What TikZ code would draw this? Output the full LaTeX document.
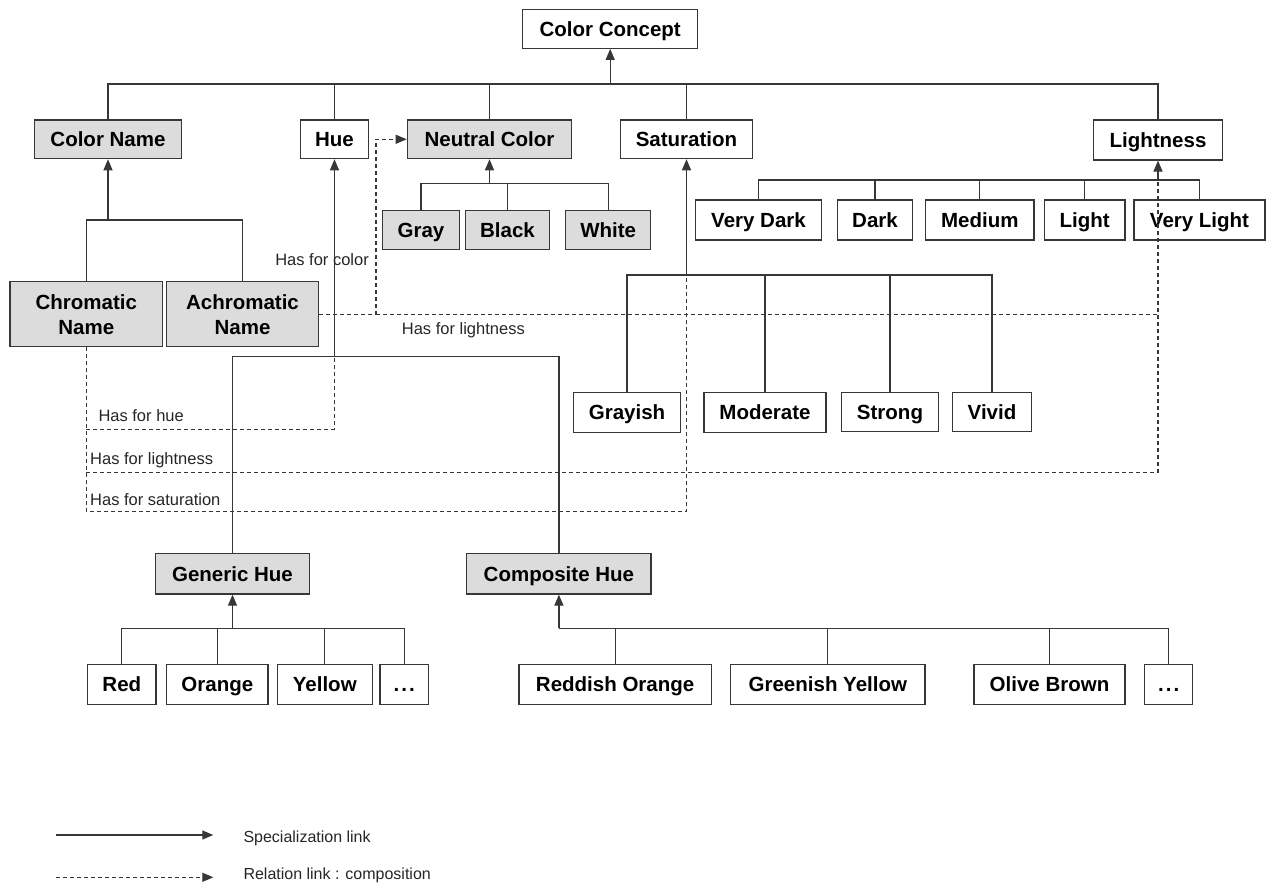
\documentclass[tikz,border=0pt]{standalone}
\usepackage{fontspec}
\setmainfont{Liberation Sans}
\usetikzlibrary{arrows.meta}
\definecolor{boxgray}{RGB}{220,220,220}
\definecolor{linec}{RGB}{55,55,55}
\tikzset{
  bx/.style={draw=linec, line width=1.2pt, fill=white, inner sep=0pt, text=black,
    font=\bfseries\fontsize{20.5}{25}\selectfont, align=center,
    text height=14.7pt, text depth=0pt},
  gbx/.style={bx, fill=boxgray},
  twoline/.style={text height=, text depth=},
  spec/.style={draw=linec, line width=1.2pt},
  arr/.style={spec, -{Triangle[length=11pt,width=9pt]}},
  rel/.style={draw=linec, line width=1.1pt, dash pattern=on 4pt off 3pt},
  relarr/.style={rel, -{Triangle[length=11pt,width=9pt]}},
  lbl/.style={inner sep=0pt, text=black!85, font=\fontsize{16.5}{19}\selectfont},
  leg/.style={inner sep=0pt, text=black!85, font=\fontsize{16}{18}\selectfont},
}
\newcommand{\mydots}{.\kern2pt.\kern2pt.}
\begin{document}
\begin{tikzpicture}[x=1pt,y=-1pt]
\useasboundingbox[fill=white] (0,0) rectangle (1275,886);

% nodes
\node[bx, minimum width=175pt, minimum height=39pt] (cc) at (610.2,28.8) {Color Concept};
\node[gbx, minimum width=147.4pt, minimum height=38.7pt] (cname) at (108,139.3) {Color Name};
\node[bx, minimum width=68.3pt, minimum height=38.7pt] (hue) at (334.5,139.3) {Hue};
\node[gbx, minimum width=164.4pt, minimum height=38.7pt] (neutral) at (489.5,139.3) {Neutral Color};
\node[bx, minimum width=132.7pt, minimum height=38.7pt] (sat) at (686.5,139.3) {Saturation};
\node[bx, minimum width=129pt, minimum height=40pt] (light) at (1158,140) {Lightness};

\node[gbx, minimum width=76.6pt, minimum height=38.6pt] (gray) at (421,230) {Gray};
\node[gbx, minimum width=83.6pt, minimum height=38.6pt] (black) at (507.5,230) {Black};
\node[gbx, minimum width=85pt, minimum height=38.6pt] (white) at (608.2,230) {White};

\node[bx, minimum width=126.4pt, minimum height=40pt] (vdark) at (758.5,220) {Very Dark};
\node[bx, minimum width=75.4pt, minimum height=40pt] (dark) at (875,220) {Dark};
\node[bx, minimum width=108.3pt, minimum height=40pt] (medium) at (979.85,220) {Medium};
\node[bx, minimum width=80.7pt, minimum height=40pt] (lightc) at (1084.65,220) {Light};
\node[bx, minimum width=131pt, minimum height=40pt] (vlight) at (1199.5,220) {Very Light};

\node[gbx, twoline, minimum width=152.7pt, minimum height=65pt] (chrom) at (86.35,314.2) {Chromatic\\Name};
\node[gbx, twoline, minimum width=152.4pt, minimum height=65pt] (achrom) at (242.5,314.2) {Achromatic\\Name};

\node[bx, minimum width=107.4pt, minimum height=40.4pt] (grayish) at (627,412.5) {Grayish};
\node[bx, minimum width=122pt, minimum height=40.4pt] (moderate) at (765,412.5) {Moderate};
\node[bx, minimum width=96.6pt, minimum height=39pt] (strong) at (890,412) {Strong};
\node[bx, minimum width=79.4pt, minimum height=39pt] (vivid) at (992,412) {Vivid};

\node[gbx, minimum width=153.6pt, minimum height=40.7pt] (generic) at (232.5,573.7) {Generic Hue};
\node[gbx, minimum width=184.3pt, minimum height=40.7pt] (composite) at (558.9,573.7) {Composite Hue};

\node[bx, minimum width=68.3pt, minimum height=40pt] (red) at (121.85,684.3) {Red};
\node[bx, minimum width=101.3pt, minimum height=40pt] (orange) at (217.35,684.3) {Orange};
\node[bx, minimum width=95pt, minimum height=40pt] (yellow) at (324.8,684.3) {Yellow};
\node[bx, minimum width=48.3pt, minimum height=40pt] (dotsa) at (404.15,684.3) {\mydots};
\node[bx, minimum width=192.3pt, minimum height=40pt] (reddish) at (615.15,684.3) {Reddish Orange};
\node[bx, minimum width=194.3pt, minimum height=40pt] (greenish) at (827.85,684.3) {Greenish Yellow};
\node[bx, minimum width=151pt, minimum height=40pt] (olive) at (1049.5,684.3) {Olive Brown};
\node[bx, minimum width=48pt, minimum height=40pt] (dotsb) at (1168.7,684.3) {\mydots};

% Color Concept specialization
\draw[spec] (cname.north) -- (cname.north |- 0,84) -- (light.north |- 0,84) -- (light.north);
\draw[spec] (hue.north) -- (hue.north |- 0,84);
\draw[spec] (neutral.north) -- (neutral.north |- 0,84);
\draw[spec] (sat.north) -- (sat.north |- 0,84);
\draw[arr] (cc.south |- 0,84) -- (cc.south);

% Neutral color
\draw[spec] (gray.north) -- (gray.north |- 0,183.7) -- (white.north |- 0,183.7) -- (white.north);
\draw[spec] (black.north) -- (black.north |- 0,183.7);
\draw[arr] (neutral.south |- 0,183.7) -- (neutral.south);

% Lightness
\draw[spec] (vdark.north) -- (vdark.north |- 0,180) -- (vlight.north |- 0,180) -- (vlight.north);
\draw[spec] (dark.north) -- (dark.north |- 0,180);
\draw[spec] (medium.north) -- (medium.north |- 0,180);
\draw[spec] (lightc.north) -- (lightc.north |- 0,180);
\draw[arr] (light.south |- 0,180) -- (light.south);

% Saturation
\draw[spec] (grayish.north) -- (grayish.north |- 0,275) -- (vivid.north |- 0,275) -- (vivid.north);
\draw[spec] (moderate.north) -- (moderate.north |- 0,275);
\draw[spec] (strong.north) -- (strong.north |- 0,275);
\draw[arr] (sat.south |- 0,275) -- (sat.south);

% Color name
\draw[spec] (chrom.north) -- (chrom.north |- 0,220) -- (achrom.north |- 0,220) -- (achrom.north);
\draw[arr] (cname.south |- 0,220) -- (cname.south);

% Hue
\draw[spec] (generic.north) -- (generic.north |- 0,356.7) -- (composite.north |- 0,356.7) -- (composite.north);
\draw[arr] (hue.south |- 0,356.7) -- (hue.south);

% Generic hue
\draw[spec] (red.north) -- (red.north |- 0,628.3) -- (dotsa.north |- 0,628.3) -- (dotsa.north);
\draw[spec] (orange.north) -- (orange.north |- 0,628.3);
\draw[spec] (yellow.north) -- (yellow.north |- 0,628.3);
\draw[arr] (generic.south |- 0,628.3) -- (generic.south);

% Composite hue
\draw[spec] (composite.south |- 0,628.3) -- (dotsb.north |- 0,628.3) -- (dotsb.north);
\draw[spec] (reddish.north) -- (reddish.north |- 0,628.3);
\draw[spec] (greenish.north) -- (greenish.north |- 0,628.3);
\draw[spec] (olive.north) -- (olive.north |- 0,628.3);
\draw[arr] (composite.south |- 0,628.3) -- (composite.south);

% Relation links
\draw[relarr] (achrom.east) -- (376,314.2) -- (376,139.3) -- (neutral.west);
\draw[rel] (376,314.2) -- (light.south |- achrom.east) -- (light.south |- 0,180);
\draw[rel] (chrom.south) -- (chrom.south |- 0,511.7) -- (sat.south |- 0,511.7) -- (sat.south |- 0,275);
\draw[rel] (chrom.south |- 0,429.3) -- (hue.south |- 0,429.3) -- (hue.south |- 0,356.7);
\draw[rel] (chrom.south |- 0,472.3) -- (light.south |- 0,472.3) -- (light.south |- achrom.east);

% labels
\node[lbl, anchor=east] (lcolor) at (369,259.5) {Has for color};
\node[lbl, anchor=west] (llight1) at (401.7,330) {Has for lightness};
\node[lbl, anchor=west] (lhue) at (98.3,416) {Has for hue};
\node[lbl, anchor=west] (llight2) at (90,460) {Has for lightness};
\node[lbl, anchor=west] (lsat) at (90,500) {Has for saturation};

% legend
\coordinate (la) at (56,835);
\coordinate (lb) at (213.3,835);
\coordinate (lc) at (56,877.3);
\coordinate (ld) at (213.3,877.3);
\draw[arr] (la) -- (lb);
\draw[relarr] (lc) -- (ld);
\node[leg, anchor=west] (lspec) at (243.3,838) {Specialization link};
\node[leg, anchor=west] (lrel) at (243.3,875) {Relation link : composition};
\end{tikzpicture}
\end{document}
